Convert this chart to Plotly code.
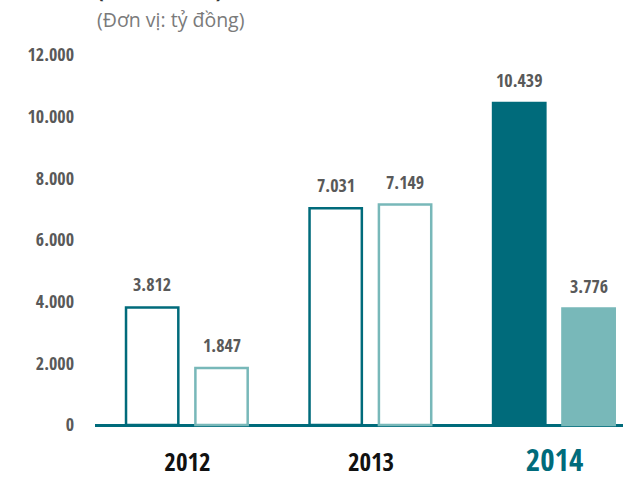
import plotly.graph_objects as go

years = ["2012", "2013", "2014"]
series_a = [3812, 7031, 10439]
series_b = [1847, 7149, 3776]
labels_a = ["3.812", "7.031", "10.439"]
labels_b = ["1.847", "7.149", "3.776"]
y_ticks = [0, 2000, 4000, 6000, 8000, 10000, 12000]
y_tick_text = ["0", "2.000", "4.000", "6.000", "8.000", "10.000", "12.000"]

DARK = "#006b7b"
LIGHT = "#78b8b9"
GRAY = "#595959"
FONT = "Open Sans Condensed, Roboto Condensed, sans-serif"

xs = list(range(len(years)))
W = 0.285
OFF_A = -0.335
OFF_B = 0.043

fig = go.Figure()
fig.add_trace(go.Bar(
    x=xs, y=series_a, width=W, offset=OFF_A,
    marker=dict(color=["white", "white", DARK], line=dict(color=DARK, width=2.5)),
    hoverinfo="skip",
))
fig.add_trace(go.Bar(
    x=xs, y=series_b, width=W, offset=OFF_B,
    marker=dict(color=["white", "white", LIGHT], line=dict(color=LIGHT, width=2.5)),
    hoverinfo="skip",
))

for i in xs:
    fig.add_annotation(x=i + OFF_A + W / 2, y=series_a[i], text="<b>%s</b>" % labels_a[i],
                       showarrow=False, yanchor="bottom", yshift=9,
                       font=dict(family=FONT, size=18, color=GRAY))
    fig.add_annotation(x=i + OFF_B + W / 2, y=series_b[i], text="<b>%s</b>" % labels_b[i],
                       showarrow=False, yanchor="bottom", yshift=9,
                       font=dict(family=FONT, size=18, color=GRAY))

tick_text = [
    "<b>2012</b>",
    "<b>2013</b>",
    "<span style='color:%s;font-size:31px'><b>2014</b></span>" % DARK,
]

fig.add_annotation(xref="paper", yref="paper", x=-0.0, y=1.085, xanchor="left", yanchor="bottom",
                   text="<b>(2012 – 2014)</b>", showarrow=False,
                   font=dict(family="Open Sans, sans-serif", size=20, color="#333333"))
fig.add_annotation(xref="paper", yref="paper", x=-0.0, y=1.013, xanchor="left", yanchor="bottom",
                   text="(Đơn vị: tỷ đồng)", showarrow=False,
                   font=dict(family="Open Sans, sans-serif", size=19.5, color="#7a7a7a"))

fig.update_layout(
    width=623, height=480,
    margin=dict(l=95, r=0, t=40, b=40),
    plot_bgcolor="white", paper_bgcolor="white",
    barmode="overlay",
    showlegend=False,
    xaxis=dict(range=[-0.504, 2.373], tickvals=xs, ticktext=tick_text,
               showgrid=False, zeroline=False, showline=False, ticks="",
               ticklabelstandoff=8,
               tickfont=dict(family=FONT, size=25, color="#111111")),
    yaxis=dict(range=[-386, 12482], tickvals=y_ticks, ticktext=["<b>%s</b>" % t for t in y_tick_text],
               showgrid=False, zeroline=True, zerolinecolor=DARK, zerolinewidth=3,
               showline=False, ticks="", ticklabelstandoff=20,
               tickfont=dict(family=FONT, size=18, color=GRAY)),
)

fig.write_html("out.html")
